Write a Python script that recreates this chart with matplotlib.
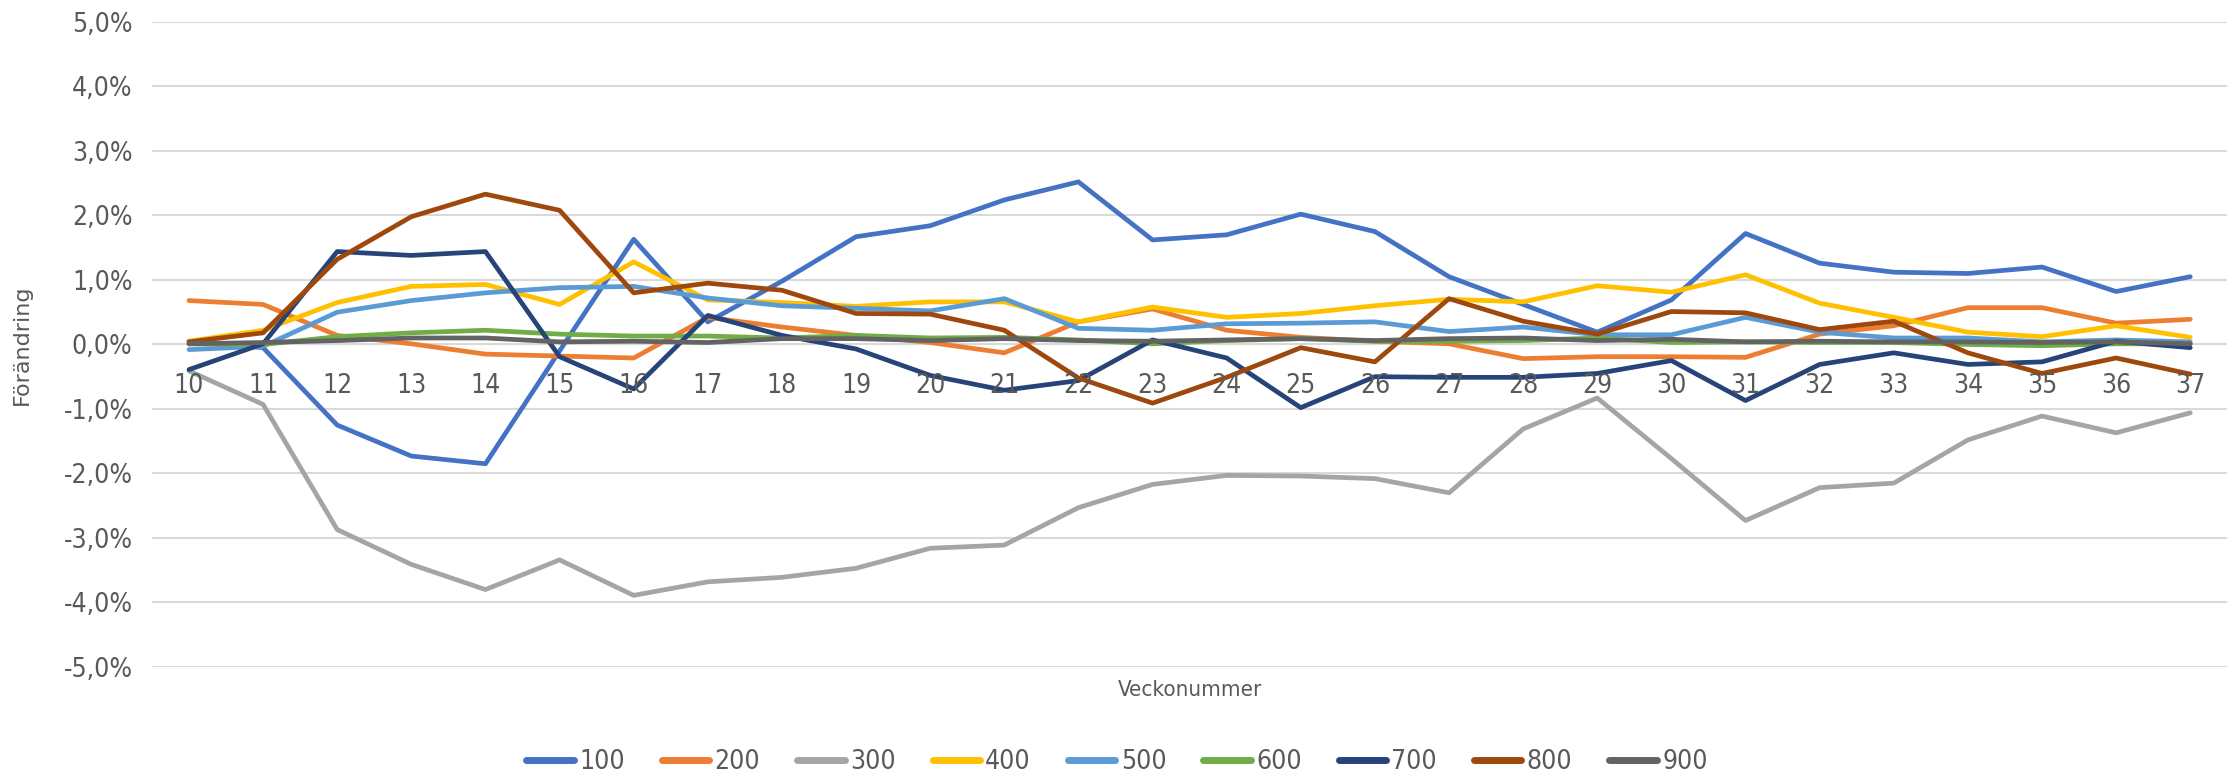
import numpy as np
import matplotlib.pyplot as plt
from matplotlib.ticker import FuncFormatter

weeks = list(range(10, 38))
series_names = ["100", "200", "300", "400", "500", "600", "700", "800", "900"]
colors = ["#4472C4", "#ED7D31", "#A5A5A5", "#FFC000", "#5B9BD5",
          "#70AD47", "#264478", "#9E480E", "#636363"]

# change in percent, week 10..37
s100 = [0.05, -0.05, -1.25, -1.73, -1.85, -0.10, 1.63, 0.35, 0.98, 1.67,
        1.84, 2.24, 2.52, 1.62, 1.70, 2.02, 1.75, 1.05, 0.62, 0.19,
        0.69, 1.72, 1.26, 1.12, 1.10, 1.20, 0.82, 1.05]
s200 = [0.68, 0.62, 0.14, 0.01, -0.15, -0.18, -0.21, 0.42, 0.27, 0.14,
        0.03, -0.13, 0.35, 0.55, 0.22, 0.11, 0.05, 0.01, -0.22, -0.19,
        -0.19, -0.20, 0.16, 0.29, 0.57, 0.57, 0.33, 0.39]
s300 = [-0.41, -0.93, -2.87, -3.41, -3.80, -3.34, -3.89, -3.68, -3.61, -3.47,
        -3.16, -3.11, -2.53, -2.17, -2.03, -2.04, -2.08, -2.30, -1.31, -0.83,
        -1.77, -2.73, -2.22, -2.15, -1.48, -1.11, -1.37, -1.06]
s400 = [0.05, 0.22, 0.65, 0.90, 0.93, 0.62, 1.28, 0.69, 0.65, 0.59,
        0.66, 0.66, 0.35, 0.58, 0.42, 0.48, 0.60, 0.70, 0.66, 0.91,
        0.81, 1.08, 0.64, 0.42, 0.19, 0.12, 0.29, 0.11]
s500 = [-0.08, -0.03, 0.50, 0.68, 0.80, 0.88, 0.90, 0.72, 0.60, 0.56,
        0.52, 0.71, 0.25, 0.22, 0.32, 0.33, 0.35, 0.20, 0.27, 0.15,
        0.15, 0.42, 0.19, 0.10, 0.10, 0.04, 0.07, 0.04]
s600 = [0.01, 0.00, 0.12, 0.18, 0.22, 0.16, 0.13, 0.13, 0.10, 0.14,
        0.10, 0.11, 0.07, 0.01, 0.06, 0.09, 0.05, 0.05, 0.06, 0.10,
        0.03, 0.04, 0.03, 0.03, 0.00, -0.02, 0.01, 0.01]
s700 = [-0.39, 0.01, 1.44, 1.38, 1.44, -0.19, -0.69, 0.45, 0.14, -0.07,
        -0.48, -0.71, -0.56, 0.07, -0.21, -0.98, -0.50, -0.51, -0.51, -0.45,
        -0.25, -0.87, -0.31, -0.13, -0.31, -0.27, 0.05, -0.05]
s800 = [0.04, 0.18, 1.32, 1.98, 2.33, 2.08, 0.80, 0.95, 0.84, 0.48,
        0.47, 0.22, -0.52, -0.91, -0.51, -0.05, -0.27, 0.71, 0.36, 0.16,
        0.51, 0.49, 0.23, 0.36, -0.13, -0.45, -0.21, -0.46]
s900 = [0.01, 0.03, 0.06, 0.10, 0.10, 0.04, 0.05, 0.03, 0.09, 0.09,
        0.06, 0.09, 0.06, 0.05, 0.07, 0.09, 0.06, 0.09, 0.10, 0.06,
        0.08, 0.04, 0.05, 0.04, 0.04, 0.03, 0.04, 0.01]
values = [s100, s200, s300, s400, s500, s600, s700, s800, s900]

txt = "#595959"
tick_font = {"family": "DejaVu Sans", "stretch": "condensed"}

fig = plt.figure(figsize=(22.34, 7.77), dpi=100)
ax = fig.add_axes([0.068, 0.1416, 0.929, 0.8302])

for name, vals, c in zip(series_names, values, colors):
    ax.plot(weeks, vals, color=c, lw=3.4, label=name,
            solid_capstyle="round", solid_joinstyle="round")

ax.set_xlim(9.5, 37.5)
ax.set_ylim(-5, 5)
ax.set_yticks(np.arange(-5, 5.1, 1))
ax.yaxis.set_major_formatter(FuncFormatter(lambda v, p: f"{v:.1f}%".replace(".", ",")))
ax.grid(axis="y", color="#D9D9D9", lw=1.5)
ax.set_axisbelow(True)
ax.set_xticks([])
ax.tick_params(axis="y", length=0, pad=14, labelcolor=txt, labelsize=19)
for lab in ax.get_yticklabels():
    lab.set_family(tick_font["family"])
    lab.set_stretch(tick_font["stretch"])
for sp in ax.spines.values():
    sp.set_visible(False)

# category labels sit just under the zero line
for w in weeks:
    ax.text(w, -0.64, str(w), ha="center", va="center", color=txt,
            fontsize=19, **tick_font)

ax.set_ylabel("Förändring", color=txt, fontsize=16, family="DejaVu Sans")
ax.yaxis.set_label_coords(-0.058, 0.5)
ax.text(0.5, -0.035, "Veckonummer", transform=ax.transAxes, ha="center", va="center",
        color=txt, fontsize=16, **tick_font)

leg = fig.legend(loc="center", bbox_to_anchor=(0.5, 0.019), ncol=9, frameon=False,
                 handlelength=1.8, columnspacing=1.4, handletextpad=0.2,
                 prop={"family": "DejaVu Sans", "stretch": "condensed", "size": 19})
for t in leg.get_texts():
    t.set_color(txt)
for h in leg.get_lines():
    h.set_linewidth(5)
    h.set_solid_capstyle("round")

fig.savefig("out.png", dpi=100)
